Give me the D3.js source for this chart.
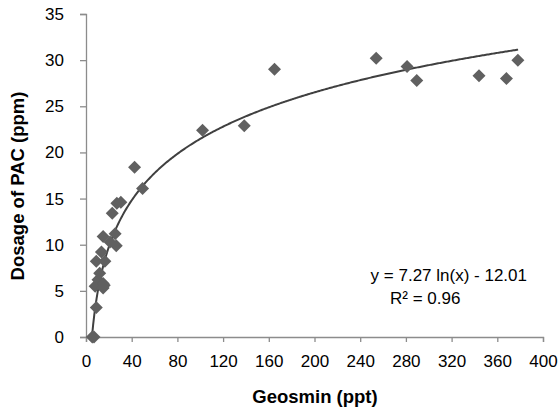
<!DOCTYPE html>
<html>
<head>
<meta charset="utf-8">
<script src="https://cdn.jsdelivr.net/npm/d3@7"></script>
<style>
body{margin:0;background:#fff;}
text{font-family:"Liberation Sans",Arial,sans-serif;}
</style>
</head>
<body>
<div id="chart"></div>
<script>
// geosmin (ppt) vs PAC dose (ppm)
var geosmin = [5.5, 7, 9, 8, 10.5, 12, 15, 15, 16, 9, 16.5, 13.5, 15, 21, 26.5, 25.5, 23, 27, 30.5, 49.5, 42.5, 102, 138.5, 165, 254, 281, 289.5, 344, 368, 378]
var dosage = [0, 0, 3.2, 5.5, 6.2, 6.9, 5.8, 5.3, 5.6, 8.2, 8.2, 9.2, 10.9, 10.3, 9.9, 11.2, 13.4, 14.5, 14.6, 16.1, 18.4, 22.4, 22.9, 29.0, 30.2, 29.3, 27.8, 28.3, 28.0, 30.0]
var xTicks = [0, 40, 80, 120, 160, 200, 240, 280, 320, 360, 400]
var yTicks = [0, 5, 10, 15, 20, 25, 30, 35]
var fitA = 7.27, fitB = -12.01

var width = 558
var height = 409
var svg = d3.select("#chart").append("svg").attr("width",width).attr("height",height)

var x = d3.scaleLinear().domain([0,400]).range([86,543])
var y = d3.scaleLinear().domain([0,35]).range([337,14])

var xAxis = svg.append("g").attr("transform","translate(0,"+y(0)+")")
	.call(d3.axisBottom(x).tickValues(xTicks).tickSize(5).tickPadding(8))
var yAxis = svg.append("g").attr("transform","translate("+x(0)+",0)")
	.call(d3.axisLeft(y).tickValues(yTicks).tickSize(6).tickPadding(16))

svg.selectAll(".domain").attr("stroke","#8c8c8c").attr("stroke-width",1.3)
svg.selectAll(".tick line").attr("stroke","#8c8c8c").attr("stroke-width",1.3)
svg.selectAll(".tick text").style("font-size","17px").attr("fill","#000")
	.style("font-family","Liberation Sans, Arial, sans-serif")
xAxis.selectAll(".tick text").attr("dy","1em")

// log trendline
var xs = d3.range(5.22, 378.5, 1)
var line = d3.line().x(function(d){return x(d)}).y(function(d){return y(fitA*Math.log(d)+fitB)})
svg.append("path").attr("d",line(xs)).attr("fill","none")
	.attr("stroke","#404040").attr("stroke-width",2)

// diamond markers
var pts = geosmin.map(function(g,i){return [g,dosage[i]]})
svg.selectAll(".pt").data(pts).enter().append("path")
	.attr("class","pt")
	.attr("d","M0,-6.5L6.5,0L0,6.5L-6.5,0Z")
	.attr("transform",function(d){return "translate("+x(d[0])+","+y(d[1])+")"})
	.attr("fill","#606060")

svg.append("text").text("Geosmin (ppt)").attr("x",315).attr("y",403)
	.attr("text-anchor","middle").style("font-size","18.5px").style("font-weight","bold")
svg.append("text").text("Dosage of PAC (ppm)")
	.attr("transform","translate(24,186) rotate(-90)")
	.attr("text-anchor","middle").style("font-size","18.5px").style("font-weight","bold")

svg.append("text").text("y = 7.27 ln(x) - 12.01").attr("x",527).attr("y",281)
	.attr("text-anchor","end").style("font-size","17px")
svg.append("text").text("R² = 0.96").attr("x",390).attr("y",304)
	.style("font-size","17px")
</script>
</body>
</html>
